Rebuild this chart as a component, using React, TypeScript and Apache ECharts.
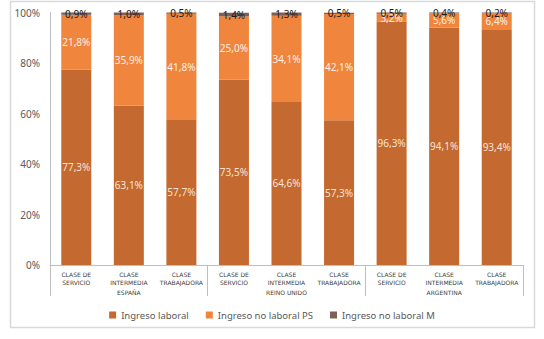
import React, { useEffect, useRef } from "react";
import * as echarts from "echarts";

const categories = [
  "CLASE DE\nSERVICIO", "CLASE\nINTERMEDIA", "CLASE\nTRABAJADORA",
  "CLASE DE\nSERVICIO", "CLASE\nINTERMEDIA", "CLASE\nTRABAJADORA",
  "CLASE DE\nSERVICIO", "CLASE\nINTERMEDIA", "CLASE\nTRABAJADORA",
];
const groups = ["ESPAÑA", "REINO UNIDO", "ARGENTINA"];
const ingresoLaboral = [77.3, 63.1, 57.7, 73.5, 64.6, 57.3, 96.3, 94.1, 93.4];
const ingresoNoLaboralPS = [21.8, 35.9, 41.8, 25.0, 34.1, 42.1, 3.2, 5.6, 6.4];
const ingresoNoLaboralM = [0.9, 1.0, 0.5, 1.4, 1.3, 0.5, 0.5, 0.4, 0.2];
const yTicks = [0, 20, 40, 60, 80, 100];

const fmt = (v: number) => v.toFixed(1).replace(".", ",") + "%";

export default function App() {
  const ref = useRef<HTMLDivElement>(null);
  useEffect(() => {
    const chart = echarts.init(ref.current!, null, { renderer: "svg" });
    const labelFont = { fontFamily: "Noto Sans", fontSize: 10 };
    chart.setOption({
      animation: false,
      backgroundColor: "#ffffff",
      graphic: [
        {
          type: "rect",
          shape: { x: 10.5, y: 1.5, width: 524, height: 326 },
          style: { fill: "none", stroke: "#d9d9d9", lineWidth: 1.5 },
          silent: true,
        },
      ],
      grid: { left: 50, right: 21, top: 12.5, bottom: 74 },
      legend: {
        top: 305,
        left: "center",
        itemWidth: 7,
        itemHeight: 7,
        itemGap: 17,
        icon: "rect",
        textStyle: { fontFamily: "Noto Sans", fontSize: 9.5, color: "#595959" },
        data: ["Ingreso laboral", "Ingreso no laboral PS", "Ingreso no laboral M"],
      },
      xAxis: [
        {
          type: "category",
          data: categories,
          position: "bottom",
          axisLine: { show: true, lineStyle: { color: "#bfbfbf", width: 1 } },
          axisTick: { show: false },
          axisLabel: {
            interval: 0,
            margin: 5,
            fontFamily: "DejaVu Sans",
            fontSize: 6,
            lineHeight: 8,
            color: "#404040",
          },
        },
        {
          type: "category",
          data: groups,
          position: "bottom",
          axisLine: { show: false },
          axisTick: { show: true, length: 31, lineStyle: { color: "#bfbfbf", width: 1 } },
          axisLabel: {
            interval: 0,
            margin: 24,
            fontFamily: "DejaVu Sans",
            fontSize: 6,
            color: "#404040",
          },
        },
      ],
      yAxis: {
        type: "value",
        min: yTicks[0],
        max: yTicks[yTicks.length - 1],
        interval: 20,
        splitLine: { show: false },
        axisLine: { show: true, lineStyle: { color: "#bfbfbf", width: 1 } },
        axisTick: { show: false },
        axisLabel: {
          margin: 10,
          formatter: "{value}%",
          fontFamily: "Noto Sans",
          fontSize: 10,
          color: "#595959",
        },
      },
      series: [
        {
          name: "Ingreso laboral",
          type: "bar",
          stack: "total",
          barWidth: 30,
          xAxisIndex: 0,
          data: ingresoLaboral,
          itemStyle: { color: "#C4692F" },
          label: {
            show: true,
            position: "inside",
            color: "#f7e4d6",
            ...labelFont,
            formatter: (p: any) => fmt(p.value),
          },
        },
        {
          name: "Ingreso no laboral PS",
          type: "bar",
          stack: "total",
          barWidth: 30,
          xAxisIndex: 0,
          data: ingresoNoLaboralPS,
          itemStyle: { color: "#F0853D" },
          label: {
            show: true,
            position: "inside",
            color: "#fdf0e6",
            ...labelFont,
            formatter: (p: any) => fmt(p.value),
          },
        },
        {
          name: "Ingreso no laboral M",
          type: "bar",
          stack: "total",
          barWidth: 30,
          xAxisIndex: 0,
          data: ingresoNoLaboralM,
          itemStyle: { color: "#7f5f55" },
          label: {
            show: true,
            position: "inside",
            color: "#1a1a1a",
            ...labelFont,
            formatter: (p: any) => fmt(p.value),
          },
        },
      ],
    });
    return () => chart.dispose();
  }, []);
  return (
    <div
      ref={ref}
      style={{ position: "absolute", left: 0, top: 0, width: 544, height: 339 }}
    />
  );
}
